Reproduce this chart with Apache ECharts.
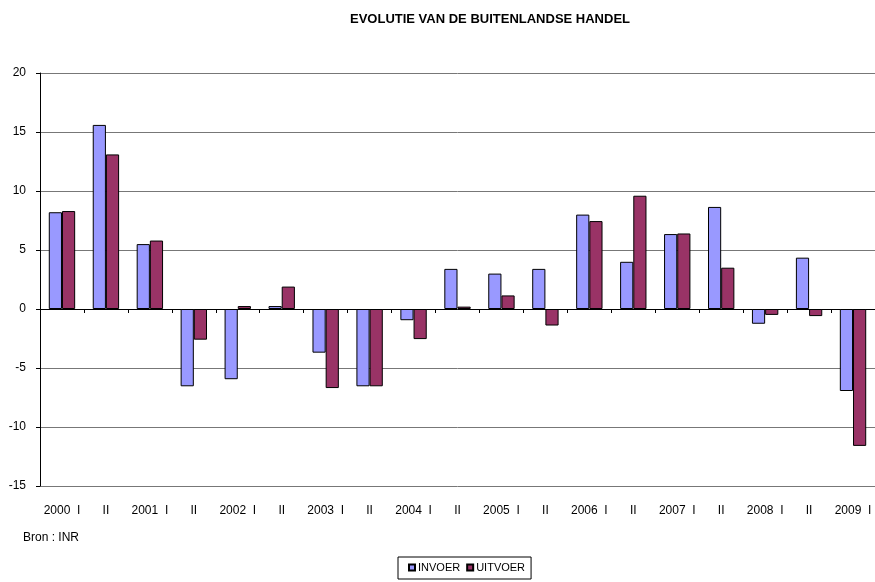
<!DOCTYPE html>
<html>
<head>
<meta charset="utf-8">
<script src="https://cdn.jsdelivr.net/npm/echarts@6/dist/echarts.min.js"></script>
<style>
  html, body { margin: 0; padding: 0; background: #fff; }
  #main { width: 875px; height: 582px; }
</style>
</head>
<body>
<div id="main"></div>
<script>
// evolutie van de buitenlandse handel, halfjaarlijkse groei (%)
var categories = ['2000  I', 'II', '2001  I', 'II', '2002  I', 'II', '2003  I', 'II',
                  '2004  I', 'II', '2005  I', 'II', '2006  I', 'II', '2007  I', 'II',
                  '2008  I', 'II', '2009  I'];
var invoer = [8.2, 15.6, 5.5, -6.55, -5.95, 0.25, -3.7, -6.55, -0.95, 3.4,
              3.0, 3.4, 8.0, 4.0, 6.35, 8.65, -1.25, 4.35, -6.95];
var uitvoer = [8.3, 13.1, 5.8, -2.6, 0.25, 1.9, -6.7, -6.55, -2.55, 0.2,
               1.15, -1.4, 7.45, 9.6, 6.4, 3.5, -0.5, -0.6, -11.6];
var yTicks = { min: -15, max: 20, step: 5 };

var font = "'Liberation Sans Narrow', 'Arial Narrow', 'Liberation Sans', Arial, sans-serif";
var myChart = echarts.init(document.getElementById('main'));

var option = {
    backgroundColor: '#fff',
    animation: false,
    title: {
        text: 'EVOLUTIE VAN DE BUITENLANDSE HANDEL',
        left: 345,
        top: 8,
        textStyle: { fontFamily: font, fontSize: 13, fontWeight: 'bold', color: '#000' }
    },
    graphic: [{
        type: 'text',
        left: 23,
        top: 532,
        style: { text: 'Bron : INR', fontFamily: font, fontSize: 12, fill: '#000' }
    }],
    legend: {
        data: ['INVOER', 'UITVOER'],
        left: 398,
        top: 557,
        padding: [5, 6, 6, 10],
        borderColor: '#000',
        borderWidth: 1,
        borderRadius: 0,
        icon: 'rect',
        itemWidth: 6,
        itemHeight: 6,
        itemGap: 6,
        textStyle: { fontFamily: font, fontSize: 11, color: '#000', padding: [0, 0, 0, -2] }
    },
    grid: { left: 40, right: -6, top: 73, bottom: 96 },
    xAxis: [{
        type: 'category',
        data: categories,
        axisLine: { onZero: true, lineStyle: { color: '#000', width: 1 } },
        axisTick: { show: true, interval: 0, length: 4, inside: false, lineStyle: { color: '#000' } },
        axisLabel: { show: false, interval: 0 },
        splitLine: { show: false }
    }, {
        type: 'category',
        data: categories,
        position: 'bottom',
        axisLine: { show: false, onZero: false },
        axisTick: { show: false },
        axisLabel: { show: true, interval: 0, margin: 19, fontFamily: font, fontSize: 12, color: '#000' },
        splitLine: { show: false }
    }],
    yAxis: {
        type: 'value',
        min: yTicks.min,
        max: yTicks.max,
        interval: yTicks.step,
        axisLine: { show: true, lineStyle: { color: '#000' } },
        axisTick: { show: true, length: 4, lineStyle: { color: '#000' } },
        axisLabel: { margin: 14, fontFamily: font, fontSize: 12, color: '#000' },
        splitLine: { show: true, lineStyle: { color: '#777', width: 1 } }
    },
    series: [{
        name: 'INVOER',
        type: 'bar',
        data: invoer,
        barGap: '0%',
        barCategoryGap: '40%',
        itemStyle: { color: '#9999ff', borderColor: '#000', borderWidth: 1 }
    }, {
        name: 'UITVOER',
        type: 'bar',
        data: uitvoer,
        barGap: '0%',
        barCategoryGap: '40%',
        itemStyle: { color: '#993366', borderColor: '#000', borderWidth: 1 }
    }]
};

myChart.setOption(option);
</script>
</body>
</html>
